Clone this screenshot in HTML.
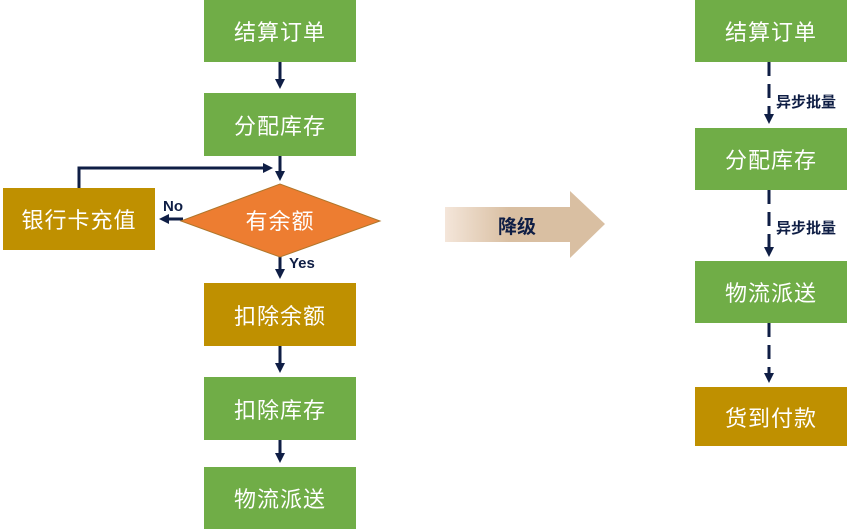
<!DOCTYPE html>
<html><head><meta charset="utf-8"><style>
body{margin:0;width:864px;height:529px;background:#fff;overflow:hidden;position:relative;font-family:"Liberation Sans","Noto Sans CJK SC",sans-serif}
.b{position:absolute;width:152px;color:#fff;font-size:22px;display:flex;align-items:center;justify-content:center;letter-spacing:1px}
.g{background:#70AD47}.o{background:#BF9000}
svg{position:absolute;left:0;top:0}
</style></head><body>
<svg width="864" height="529">
<defs>
<marker id="a" markerWidth="10" markerHeight="10" refX="7" refY="5" orient="auto" markerUnits="userSpaceOnUse"><path d="M0,0L10,5L0,10z" fill="#0F1E45"/></marker>
<linearGradient id="gr" x1="0" x2="1"><stop offset="0" stop-color="#F4E6DA"/><stop offset="0.4" stop-color="#D9BFA2"/><stop offset="1" stop-color="#D9BFA2"/></linearGradient>
</defs>
<g stroke="#0F1E45" stroke-width="3" fill="none">
<line x1="280" y1="62" x2="280" y2="86" marker-end="url(#a)"/>
<line x1="280" y1="156" x2="280" y2="178" marker-end="url(#a)"/>
<polyline points="79,188 79,168 270,168" marker-end="url(#a)"/>
<line x1="183" y1="219" x2="162" y2="219" marker-end="url(#a)"/>
<line x1="280" y1="257" x2="280" y2="276" marker-end="url(#a)"/>
<line x1="280" y1="346" x2="280" y2="370" marker-end="url(#a)"/>
<line x1="280" y1="440" x2="280" y2="460" marker-end="url(#a)"/>
<line x1="769" y1="62" x2="769" y2="121" stroke-dasharray="14,8" marker-end="url(#a)"/>
<line x1="769" y1="190" x2="769" y2="254" stroke-dasharray="14,8" marker-end="url(#a)"/>
<line x1="769" y1="323" x2="769" y2="380" stroke-dasharray="14,8" marker-end="url(#a)"/>
</g>
<polygon points="181,221 280,184 380,221 280,257" fill="#ED7D31" stroke="#B0762A"/>
<text x="280" y="229" fill="#fff" font-size="22" text-anchor="middle" letter-spacing="1">有余额</text>
<polygon points="445,207 570,207 570,191 605,224 570,258 570,242 445,242" fill="url(#gr)"/>
<text x="517" y="233" fill="#0F1E45" font-size="19" font-weight="bold" text-anchor="middle">降级</text>
<g fill="#0F1E45" font-size="15" font-weight="bold">
<text x="163" y="211">No</text>
<text x="289" y="268">Yes</text>
<text x="776" y="107">异步批量</text>
<text x="776" y="233">异步批量</text>
</g>
</svg>
<div class="b g" style="left:204px;top:0;height:62px">结算订单</div>
<div class="b g" style="left:204px;top:93px;height:63px">分配库存</div>
<div class="b o" style="left:3px;top:188px;height:62px">银行卡充值</div>
<div class="b o" style="left:204px;top:283px;height:63px">扣除余额</div>
<div class="b g" style="left:204px;top:377px;height:63px">扣除库存</div>
<div class="b g" style="left:204px;top:467px;height:62px">物流派送</div>
<div class="b g" style="left:695px;top:0;height:62px">结算订单</div>
<div class="b g" style="left:695px;top:128px;height:62px">分配库存</div>
<div class="b g" style="left:695px;top:261px;height:62px">物流派送</div>
<div class="b o" style="left:695px;top:387px;height:59px">货到付款</div>
</body></html>
